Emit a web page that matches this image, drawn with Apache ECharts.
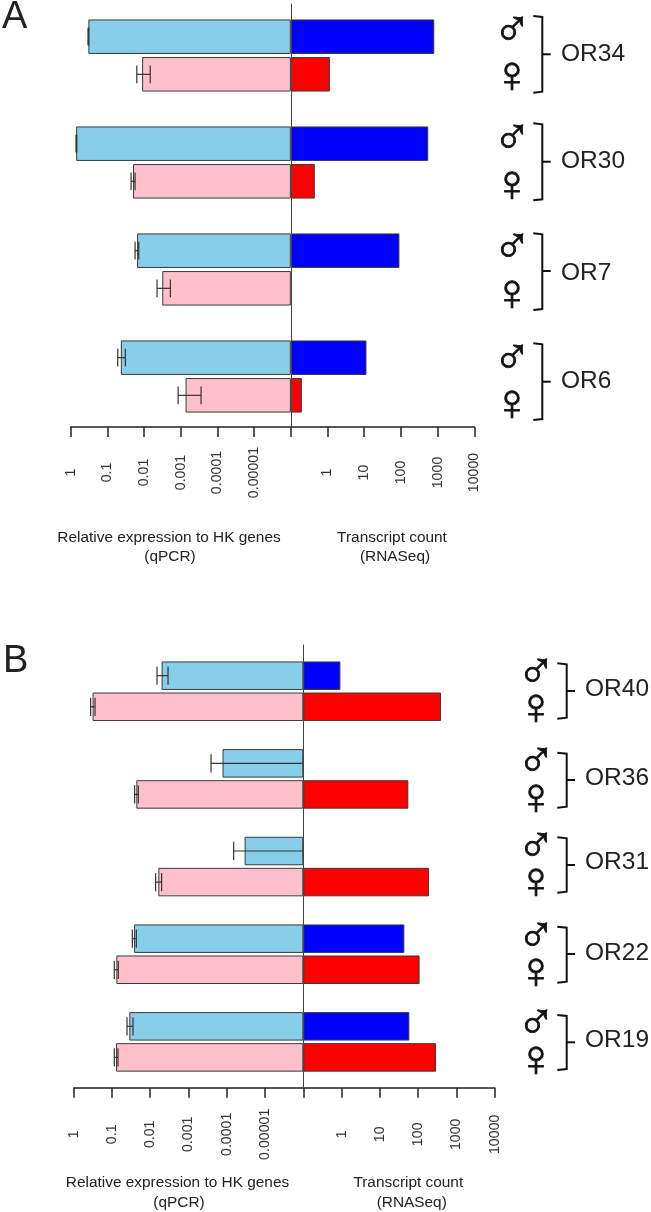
<!DOCTYPE html>
<html><head><meta charset="utf-8">
<style>html,body{margin:0;padding:0;background:#fff}#c{width:651px;height:1212px}</style>
<script src="https://cdn.jsdelivr.net/npm/echarts@6/dist/echarts.min.js"></script>
</head><body><div id="c"></div>
<script>
// ---- data ----
const tickLabels = ['1','0.1','0.01','0.001','0.0001','0.00001','','1','10','100','1000','10000'];

const genesA = ['OR34','OR30','OR7','OR6'];
const qpcrMaleA     = [0.33, 0.71, 0.0155, 0.043];
const qpcrFemaleA   = [0.0113, 0.020, 0.0032, 0.00074];
const qpcrMaleLowA  = [0.324, 0.689, 0.0140, 0.0324];
const qpcrMaleHighA = [0.337, 0.716, 0.0176, 0.0522];
const qpcrFemaleLowA  = [0.0068, 0.0176, 0.00192, 0.00028];
const qpcrFemaleHighA = [0.0158, 0.0226, 0.00443, 0.00118];
const rnaMaleA   = [810, 555, 91, 11.5];
const rnaFemaleA = [1.16, 0.45, null, 0.2];

const genesB = ['OR40','OR36','OR31','OR22','OR19'];
const qpcrMaleB     = [0.00505, 0.000129, 0.0000342, 0.0265, 0.0352];
const qpcrFemaleB   = [0.321, 0.0231, 0.00615, 0.0769, 0.0783];
const qpcrMaleLowB  = [0.00343, 0.000001, 0.000001, 0.0231, 0.0282];
const qpcrMaleHighB = [0.00665, 0.000258, 0.0000662, 0.0294, 0.0405];
const qpcrFemaleLowB  = [0.277, 0.0205, 0.00505, 0.0682, 0.0695];
const qpcrFemaleHighB = [0.361, 0.0256, 0.00723, 0.0869, 0.0869];
const rnaMaleB   = [0.93, null, null, 43.6, 58.9];
const rnaFemaleB = [396, 55.4, 193, 109, 293];

const axisTitleLeft = ['Relative expression to HK genes','(qPCR)'];
const axisTitleRight = ['Transcript count','(RNASeq)'];

// ---- scales: the axis is drawn in decades either side of the centre line ----
const leftPos  = v => v == null ? null : -(Math.log10(v) + 6);
const rightPos = v => v == null ? null : Math.log10(v) + 1;

const FONT = '"Liberation Sans", Arial, sans-serif';
const BORDER = '#3a3a3a';

function errorSeries(name, gridI, low, high, rowShift, capShift) {
  return {
    name, type: 'custom', xAxisIndex: gridI, yAxisIndex: gridI, z: 4, silent: true,
    data: low.map((v, i) => [leftPos(v), leftPos(high[i]), i]),
    encode: {x: [0, 1], y: 2},
    renderItem(params, api) {
      const a = api.coord([api.value(0), api.value(2)]);
      const b = api.coord([api.value(1), api.value(2)]);
      const band = api.size([0, 1])[1];
      const y = a[1] + rowShift * band, h = capShift * band;
      const st = {stroke: '#333', lineWidth: 1.2, fill: null};
      return {type: 'group', children: [
        {type: 'line', shape: {x1: a[0], y1: y, x2: b[0], y2: y}, style: st},
        {type: 'line', shape: {x1: a[0], y1: y - h, x2: a[0], y2: y + h}, style: st},
        {type: 'line', shape: {x1: b[0], y1: y - h, x2: b[0], y2: y + h}, style: st}
      ]};
    }
  };
}

function barSeries(name, gridI, stack, values, color, width, gap) {
  return {
    name, type: 'bar', xAxisIndex: gridI, yAxisIndex: gridI, stack, data: values,
    barWidth: width, barGap: gap, z: 2, silent: true,
    itemStyle: {color, borderColor: BORDER, borderWidth: 1}
  };
}

function panelSeries(gridI, d, width, gap, rowShift, capShift) {
  return [
    barSeries(d.name + ' male qPCR', gridI, d.name + 'male', d.qm.map(leftPos), '#87CEEB', width, gap),
    barSeries(d.name + ' female qPCR', gridI, d.name + 'female', d.qf.map(leftPos), '#FFC0CB', width, gap),
    barSeries(d.name + ' male RNASeq', gridI, d.name + 'male', d.rm.map(rightPos), '#0000FF', width, gap),
    barSeries(d.name + ' female RNASeq', gridI, d.name + 'female', d.rf.map(rightPos), '#FF0000', width, gap),
    errorSeries(d.name + ' male error', gridI, d.qml, d.qmh, -rowShift, capShift),
    errorSeries(d.name + ' female error', gridI, d.qfl, d.qfh, rowShift, capShift)
  ];
}

function frameX(gridIndex, margin) {
  return {
    gridIndex, type: 'value', min: -6, max: 5, interval: 1, position: 'bottom',
    axisLine: {show: true, onZero: false, lineStyle: {color: '#222', width: 1.5}},
    axisTick: {show: true, length: 10, inside: false, lineStyle: {color: '#222', width: 1.5}},
    axisLabel: {
      show: true, rotate: 90, align: 'center', verticalAlign: 'middle', margin,
      fontFamily: FONT, fontSize: 14.2, color: '#333',
      showMinLabel: true, showMaxLabel: true, hideOverlap: false,
      formatter: v => tickLabels[Math.round(v) + 6]
    },
    splitLine: {show: false}
  };
}
function frameY(gridIndex) {
  return {
    gridIndex, type: 'value', min: 0, max: 1, z: 6,
    axisLine: {show: true, onZero: true, lineStyle: {color: '#444', width: 1}},
    axisTick: {show: false}, axisLabel: {show: false}, splitLine: {show: false}
  };
}
const hiddenX = gridIndex => ({gridIndex, type: 'value', min: -6, max: 5, show: false});
const hiddenY = (gridIndex, data) => ({gridIndex, type: 'category', inverse: true, data, show: false});

// ---- annotations placed beside the plot (not data marks) ----
const g = [];
function txt(t, x, y, size, opt) {
  g.push({type: 'text', x, y, silent: true, style: Object.assign({
    text: t, font: `${size}px ${FONT}`, fontSize: size, fontFamily: FONT,
    fill: '#222', textAlign: 'left', textVerticalAlign: 'middle'
  }, opt || {})});
}
function bracket(xl, xr, xt, yt, yb, ym) {
  g.push({type: 'polyline', silent: true, shape: {points: [[xl, yt], [xr, yt + 1], [xr, yb - 1], [xl, yb]]},
    style: {stroke: '#111', lineWidth: 2, fill: null}});
  g.push({type: 'line', silent: true, shape: {x1: xr, y1: ym, x2: xt, y2: ym},
    style: {stroke: '#111', lineWidth: 2}});
}
const S = 52;
function sex(cx, cyM, cyF) {
  const s = {font: `${S}px "Liberation Sans"`, fontFamily: '"Liberation Sans"', fontSize: S, textAlign: 'center', fill: '#111', stroke: '#111', lineWidth: 0.8};
  txt('\u2642', cx, cyM + 3, S, s);
  txt('\u2640', cx, cyF + 3, S, s);
}
txt('A', 2, 18, 38);
txt('B', 3, 662, 38);

const layoutA = [[54, 16, 92.7, 54.3, 28.5, 75],[161, 123.3, 200.3, 161.7, 137, 184],[273, 233.3, 310, 271, 245.5, 293],[381.7, 343.3, 420, 381.7, 356.5, 403]];
layoutA.forEach((r, i) => { txt(genesA[i], 561, r[0], 24.5); bracket(533.3, 542.3, 550.7, r[1], r[2], r[3]); sex(512, r[4], r[5]); });
const layoutB = [[689, 663.3, 718.7, 691, 670.5, 707],[778.3, 752.7, 807.7, 780, 759.5, 796.5],[862.7, 837.3, 892.7, 865, 844.5, 881],[953.3, 926.7, 982.7, 954, 935, 971],[1040.7, 1015, 1070, 1042.3, 1022, 1059]];
layoutB.forEach((r, i) => { txt(genesB[i], 585, r[0], 24.5); bracket(557.3, 566.7, 575, r[1], r[2], r[3]); sex(536, r[4], r[5]); });

const cap = {textAlign: 'center'};
const T = 15.4;
[[169, 537.3, 170, 556.7, 392, 395], [177.5, 1182.3, 179, 1202.7, 408.3, 411.7]].forEach(p => {
  txt(axisTitleLeft[0], p[0], p[1], T, cap); txt(axisTitleLeft[1], p[2], p[3], T, cap);
  txt(axisTitleRight[0], p[4], p[1], T, cap); txt(axisTitleRight[1], p[5], p[3], T, cap);
});

const chart = echarts.init(document.getElementById('c'), null, {renderer: 'canvas'});
chart.setOption({
  animation: false, backgroundColor: '#fff',
  grid: [
    {left: 70.7, width: 403.6, top: 2, height: 428},
    {left: 73.7, width: 421, top: 647.4, height: 438.3},
    {left: 70.7, width: 403.6, top: 4, height: 423},
    {left: 73.7, width: 421, top: 645, height: 442.7}
  ],
  xAxis: [hiddenX(0), hiddenX(1), frameX(2, 45.5), frameX(3, 46.6)],
  yAxis: [hiddenY(0, genesA), hiddenY(1, genesB), frameY(2), frameY(3)],
  series: [
    ...panelSeries(0, {name: 'A', qm: qpcrMaleA, qf: qpcrFemaleA, rm: rnaMaleA, rf: rnaFemaleA,
      qml: qpcrMaleLowA, qmh: qpcrMaleHighA, qfl: qpcrFemaleLowA, qfh: qpcrFemaleHighA}, 34.5, '9%', 0.176, 0.083),
    ...panelSeries(1, {name: 'B', qm: qpcrMaleB, qf: qpcrFemaleB, rm: rnaMaleB, rf: rnaFemaleB,
      qml: qpcrMaleLowB, qmh: qpcrMaleHighB, qfl: qpcrFemaleLowB, qfh: qpcrFemaleHighB}, 28.5, '9%', 0.1775, 0.104)
  ],
  graphic: {elements: g}
});
</script></body></html>
